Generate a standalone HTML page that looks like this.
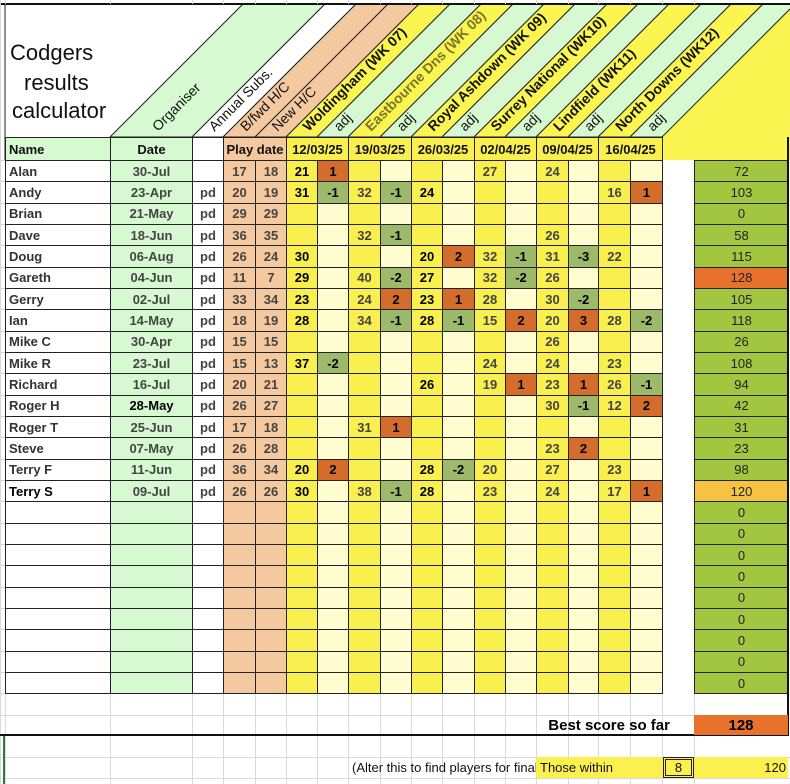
<!DOCTYPE html>
<html><head><meta charset="utf-8">
<style>
html,body{margin:0;padding:0;background:#fff;}
#root{position:relative;width:790px;height:784px;overflow:hidden;font-family:"Liberation Sans",Arial,sans-serif;}
.c{position:absolute;box-sizing:border-box;font-size:13px;font-weight:bold;display:flex;align-items:center;justify-content:center;color:#333;white-space:nowrap;overflow:hidden;}
.g{position:absolute;background:#d9d9d9;}
</style></head>
<body>
<div id="root">
<svg id="hdr" width="790" height="160" style="position:absolute;left:0;top:0"></svg>
</div>
<script>
const names=["Alan","Andy","Brian","Dave","Doug","Gareth","Gerry","Ian","Mike C","Mike R","Richard","Roger H","Roger T","Steve","Terry F","Terry S"];
const dates=["30-Jul","23-Apr","21-May","18-Jun","06-Aug","04-Jun","02-Jul","14-May","30-Apr","23-Jul","16-Jul","28-May","25-Jun","07-May","11-Jun","09-Jul"];
const paid=["","pd","pd","pd","pd","pd","pd","pd","pd","pd","pd","pd","pd","pd","pd","pd"];
const bfwd=[17,20,29,36,26,11,33,18,15,15,20,26,17,26,36,26];
const newhc=[18,19,29,35,24,7,34,19,15,13,21,27,18,28,34,26];
// 12 cells per row: score,adj x 6 rounds
const results=[
["21","1","","","","","27","","24","","",""],
["31","-1","32","-1","24","","","","","","16","1"],
["","","","","","","","","","","",""],
["","","32","-1","","","","","26","","",""],
["30","","","","20","2","32","-1","31","-3","22",""],
["29","","40","-2","27","","32","-2","26","","",""],
["23","","24","2","23","1","28","","30","-2","",""],
["28","","34","-1","28","-1","15","2","20","3","28","-2"],
["","","","","","","","","26","","",""],
["37","-2","","","","","24","","24","","23",""],
["","","","","26","","19","1","23","1","26","-1"],
["","","","","","","","","30","-1","12","2"],
["","","31","1","","","","","","","",""],
["","","","","","","","","23","2","",""],
["20","2","","","28","-2","20","","27","","23",""],
["30","","38","-1","28","","23","","24","","17","1"]];
const totals=[72,103,0,58,115,128,105,118,26,108,94,42,31,23,98,120,0,0,0,0,0,0,0,0,0];
const roundDates=["12/03/25","19/03/25","26/03/25","02/04/25","09/04/25","16/04/25"];
const venues=["Woldingham (WK 07)","Eastbourne Dns (WK 08)","Royal Ashdown (WK 09)","Surrey National (WK10)","Lindfield (WK11)","North Downs (WK12)"];
const bestScore=128, withinVal=8, thresholdVal=120;

const root=document.getElementById('root');
const X=[5,110,192,223,255,286,317,348,380,411,442,474,505,536,568,598,630,662];
const TX=694,TX2=788;
const rowY=i=>160+i*21.33;
const GREEN="#d7f9d2",PEACH="#f4c9a0",YEL="#f9ef4f",LY="#fffdd0",ADJG="#9db96a",ORG="#d46c2c";

function cell(x,y,w,h,txt,bg,opt){
 opt=opt||{};
 const d=document.createElement('div');
 d.className='c';
 d.style.left=x+'px';d.style.top=y+'px';d.style.width=w+'px';d.style.height=h+'px';
 if(bg)d.style.background=bg;
 if(opt.border!==false){d.style.border='1px solid #222';}
 if(opt.align)d.style.justifyContent=opt.align;
 if(opt.pad)d.style.padding=opt.pad;
 if(opt.color)d.style.color=opt.color;
 if(opt.weight)d.style.fontWeight=opt.weight;
 if(opt.size)d.style.fontSize=opt.size;
 d.textContent=txt;
 root.appendChild(d);
 return d;
}
// light gray grid for non-table area
function gl(x,y,w,h){const d=document.createElement('div');d.className='g';d.style.left=x+'px';d.style.top=y+'px';d.style.width=w+'px';d.style.height=h+'px';root.appendChild(d);}
[715,757,778].forEach(y=>gl(0,y,790,1));
X.concat([694]).forEach(x=>{gl(x,0,1,4);gl(x,693,1,91);});
gl(0,0,1,784);
for(let i=0;i<=26;i++)gl(0,rowY(i),5,1);

// header svg
const svg=document.getElementById('hdr');
const NS="http://www.w3.org/2000/svg";
function sv(tag,attrs){const e=document.createElementNS(NS,tag);for(const k in attrs)e.setAttribute(k,attrs[k]);svg.appendChild(e);return e;}
const H=133,B=137,T=4;
// right yellow fill
let yr=sv('polygon',{points:`${X[17]},${B} ${X[17]+H},${T} 790,${T} 790,160 ${X[17]},160`,fill:"#fbf552"});

const bands=[
 {i:1,fill:GREEN,t:"Organiser",w:"normal",c:"#111"},
 {i:2,fill:"#fff",t:"Annual Subs.",w:"normal",c:"#111"},
 {i:3,fill:PEACH,t:"B/fwd H/C",w:"normal",c:"#111"},
 {i:4,fill:PEACH,t:"New H/C",w:"normal",c:"#111"}];
venues.forEach((v,k)=>{bands.push({i:5+2*k,fill:"#fbf552",t:v,w:"bold",c:k==1?"#77772a":"#111"});bands.push({i:6+2*k,fill:GREEN,t:"adj",w:"normal",c:"#111"});});
bands.forEach(b=>{
 const x0=X[b.i],x1=X[b.i+1];
 const p=sv('polygon',{points:`${x0},${B} ${x1},${B} ${x1+H},${T} ${x0+H},${T}`,fill:b.fill,stroke:"#222","stroke-width":"1"});
 
 const cx=(x0+x1)/2+7;
 const t=sv('text',{x:cx,y:B-5,transform:`rotate(-45 ${cx} ${B-5})`,"font-size":"14","font-family":"Liberation Sans, Arial, sans-serif","font-weight":b.w,fill:b.c});
 t.textContent=b.t;
 
});
sv('line',{x1:0,y1:4,x2:790,y2:4,stroke:"#111","stroke-width":"2"});
sv('line',{x1:5,y1:4,x2:5,y2:160,stroke:"#222","stroke-width":"1"});
// title
[["Codgers",60],["results",90],["calculator",118]].forEach(([s,y])=>{
 const t=sv('text',{x:s=="Codgers"?10:(s=="results"?24:12),y:y,"font-size":"22","font-family":"Liberation Sans, Arial, sans-serif",fill:"#111"});
 t.textContent=s;
});

// header row
const hy=137,hh=24;
let e;
e=cell(X[0],hy,X[1]-X[0]+1,hh,"Name",GREEN,{align:"flex-start",pad:"0 0 0 3px",color:"#111"});
e=cell(X[1],hy,X[2]-X[1]+1,hh,"Date",GREEN,{color:"#111"});
e=cell(X[2],hy,X[3]-X[2]+1,hh,"","#fff");
e=cell(X[3],hy,X[5]-X[3]+1,hh,"Play date",PEACH,{color:"#111"});
roundDates.forEach((d,k)=>{
 e=cell(X[5+2*k],hy,X[7+2*k]-X[5+2*k]+1,hh,d,YEL,{color:"#111"});
 
 
});

// data rows
for(let r=0;r<25;r++){
 const y=rowY(r),h=rowY(r+1)-y+1;
 const has=r<names.length;
 e=cell(X[0],y,X[1]-X[0]+1,h,has?names[r]:"","#fff",{align:"flex-start",pad:"0 0 0 3px",color:(r==15?"#000":"#333")});
 
 e=cell(X[1],y,X[2]-X[1]+1,h,has?dates[r]:"",GREEN,{color:(r==11?"#000":"#444")});
 
 e=cell(X[2],y,X[3]-X[2]+1,h,has?paid[r]:"","#fff",{color:"#444"});
 
 e=cell(X[3],y,X[4]-X[3]+1,h,has?String(bfwd[r]):"",PEACH,{color:"#444"});
 
 e=cell(X[4],y,X[5]-X[4]+1,h,has?String(newhc[r]):"",PEACH,{color:"#444"});
 
 for(let k=0;k<12;k++){
  const v=has?results[r][k]:"";
  const isAdj=k%2==1;
  let bg=isAdj?LY:YEL;
  if(isAdj&&v!==""){bg=Number(v)>0?ORG:ADJG;}
  const dark=(k==0||k==4||isAdj);
  e=cell(X[5+k],y,X[6+k]-X[5+k]+1,h,v,bg,{color:dark?"#000":"#444"});
  
  
 }
 const t=totals[r];
 let tb="#a3c640";
 if(t===bestScore)tb="#e8712b";else if(t>=thresholdVal)tb="#f5c242";
 e=cell(TX,y,TX2-TX+1,h,String(t),tb,{color:"#222",weight:"normal"});
 
}
// right border & best score
function bar(x,y,w,h,c){const d=document.createElement('div');d.style.cssText=`position:absolute;left:${x}px;top:${y}px;width:${w}px;height:${h}px;background:${c}`;root.appendChild(d);return d;}
bar(787,137,2,599,"#111");
bar(0,734,789,2,"#111");
bar(3,736,2,48,"#2e7d32");
e=cell(500,715,170,20,"Best score so far",null,{border:false,align:"flex-end",color:"#000",size:"15px"});

e=cell(TX,715,TX2-TX,20,String(bestScore),"#e8712b",{border:false,color:"#000",size:"15px"});

// bottom row
e=cell(352,757,184,21,"(Alter this to find players for finals)",null,{border:false,align:"flex-start",weight:"normal",color:"#111"});

e=cell(536,757,252,21,"Those within","#fbf04e",{border:false,align:"flex-start",pad:"0 0 0 4px",weight:"normal",color:"#111"});

e=cell(663,757,31,21,String(withinVal),"#fbf04e",{border:false,weight:"normal",color:"#111"});
e.style.border="3px double #222";

e=cell(694,757,92,21,String(thresholdVal),null,{border:false,align:"flex-end",weight:"normal",color:"#111"});

</script>
</body></html>
